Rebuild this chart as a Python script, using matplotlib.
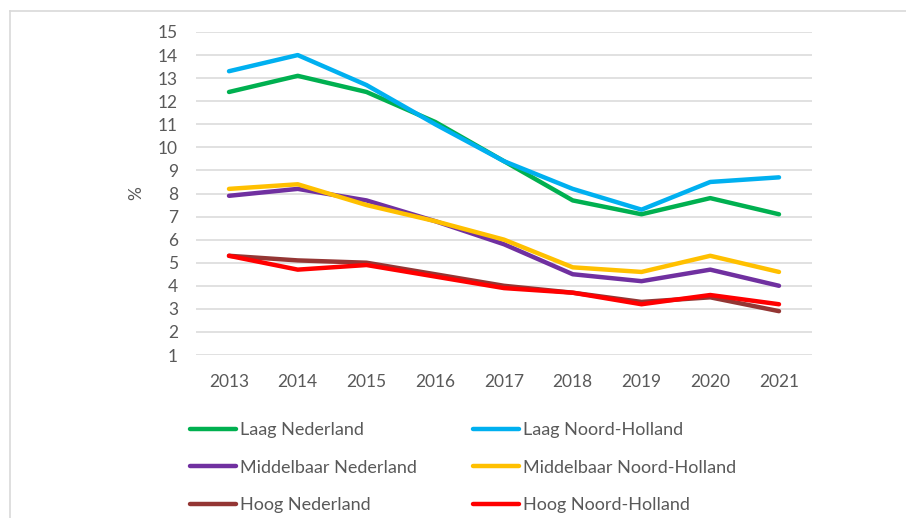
import numpy as np
import matplotlib
matplotlib.use("Agg")
import matplotlib.pyplot as plt
from matplotlib.lines import Line2D

# data
years = [2013, 2014, 2015, 2016, 2017, 2018, 2019, 2020, 2021]
laag_nl = [12.4, 13.1, 12.4, 11.1, 9.4, 7.7, 7.1, 7.8, 7.1]
laag_nh = [13.3, 14.0, 12.7, 11.0, 9.4, 8.2, 7.3, 8.5, 8.7]
midden_nl = [7.9, 8.2, 7.7, 6.8, 5.8, 4.5, 4.2, 4.7, 4.0]
midden_nh = [8.2, 8.4, 7.5, 6.8, 6.0, 4.8, 4.6, 5.3, 4.6]
hoog_nl = [5.3, 5.1, 5.0, 4.5, 4.0, 3.7, 3.3, 3.5, 2.9]
hoog_nh = [5.3, 4.7, 4.9, 4.4, 3.9, 3.7, 3.2, 3.6, 3.2]

series = [
    ("Laag Nederland", laag_nl, "#00B050"),
    ("Laag Noord-Holland", laag_nh, "#00B0F0"),
    ("Middelbaar Nederland", midden_nl, "#7030A0"),
    ("Middelbaar Noord-Holland", midden_nh, "#FFC000"),
    ("Hoog Nederland", hoog_nl, "#943634"),
    ("Hoog Noord-Holland", hoog_nh, "#FF0000"),
]

plt.rcParams['font.family'] = ['Lato', 'DejaVu Sans']
text_col = '#595959'
grid_col = '#D9D9D9'

fig = plt.figure(figsize=(9.06, 5.18), dpi=100)
ax = fig.add_axes([196/906, 1 - 355/518, 616/906, 323/518])

handles = {}
for name, vals, col in series:
    line, = ax.plot(years, vals, color=col, lw=3.2, solid_capstyle='round', label=name)
    handles[name] = line

ax.set_xlim(2012.52, 2021.48)
ax.set_ylim(1, 15)
ax.set_yticks(np.arange(1, 16))
ax.set_xticks(years)
ax.grid(axis='y', color=grid_col, lw=1.1)
ax.set_axisbelow(True)
for s in ax.spines.values():
    s.set_visible(False)
ax.tick_params(length=0, labelsize=12.5, colors=text_col)
ax.tick_params(axis='y', pad=13)
ax.tick_params(axis='x', pad=14)
ax.set_ylabel('%', fontsize=12.5, color=text_col, labelpad=10)

# legend: column-wise order so rows pair NL / NH
order = ["Laag Nederland", "Middelbaar Nederland", "Hoog Nederland",
         "Laag Noord-Holland", "Middelbaar Noord-Holland", "Hoog Noord-Holland"]
leg = fig.legend([handles[n] for n in order], order, ncol=2, frameon=False,
                 loc='upper left', bbox_to_anchor=(190/906, 1 - 422/518),
                 fontsize=13, handlelength=2.55, handletextpad=0.2,
                 columnspacing=3.15, labelspacing=1.2, borderaxespad=0, borderpad=0)
for t in leg.get_texts():
    t.set_color(text_col)

# chart area border
fig.add_artist(Line2D([10/906, 10/906], [0, 1 - 11/518], color=grid_col, lw=1.2))
fig.add_artist(Line2D([10/906, 1], [1 - 11/518, 1 - 11/518], color=grid_col, lw=1.2))

fig.savefig('out.png', dpi=100)
